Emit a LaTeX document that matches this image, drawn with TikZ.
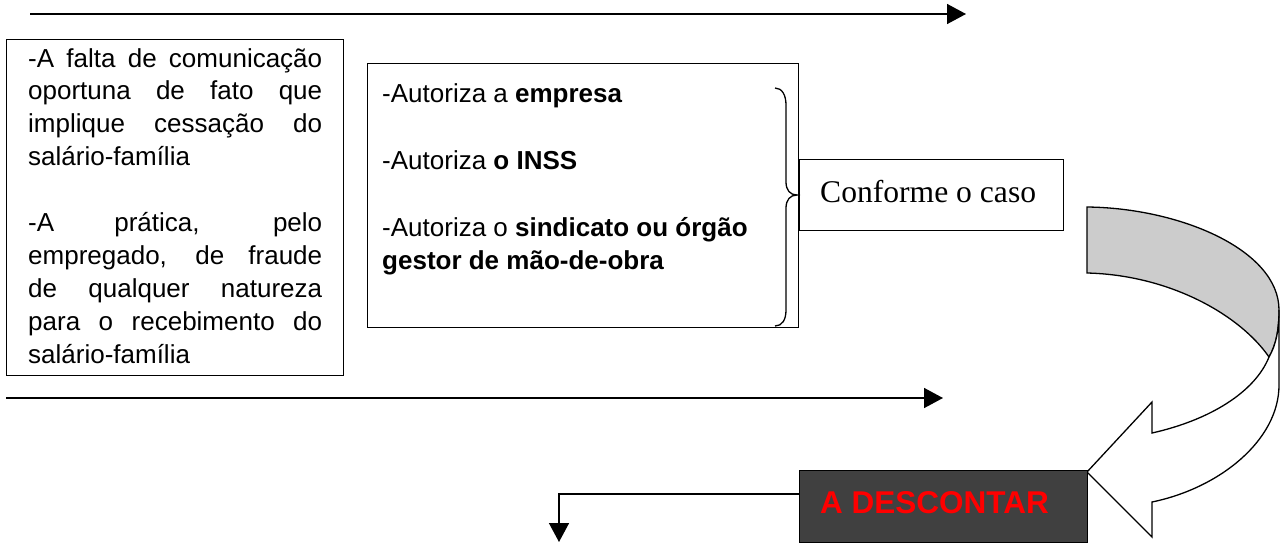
\documentclass[tikz,border=0pt]{standalone}
\usepackage{fontspec}
\setmainfont{Liberation Sans}
\newfontfamily\timesfont{Liberation Serif}
\usetikzlibrary{arrows.meta}
\definecolor{bandgray}{HTML}{CCCCCC}
\definecolor{darkbox}{HTML}{404040}
\begin{document}
\begin{tikzpicture}[x=1pt,y=-1pt,
  box/.style={draw=black, line width=1.3pt, inner sep=0pt, anchor=north west},
  flow/.style={line width=1.5pt, -{Triangle[length=19pt,width=20pt]}},
  txt/.style={inner sep=0pt, anchor=base west},
  ribbon/.style={draw=black, line width=1.3pt, line join=miter}]
\useasboundingbox (0,0) rectangle (1282,544);

% top arrow
\coordinate (ta) at (30,14);
\coordinate (tb) at (966,14);
\draw[flow] (ta) -- (tb);

% left box
\node[box, minimum width=337pt, minimum height=336pt] (left) at (6,39) {};
\node[txt] (lefttext) at (28,67) {\parbox[t]{294pt}{\fontsize{26}{32.9}\selectfont
\makebox[294pt][s]{-A falta de comunicação}\\
\makebox[294pt][s]{oportuna de fato que}\\
\makebox[294pt][s]{implique cessação do}\\
salário-família\\
\mbox{}\\
\makebox[294pt][s]{-A prática, pelo}\\
\makebox[294pt][s]{empregado, de fraude}\\
\makebox[294pt][s]{de qualquer natureza}\\
\makebox[294pt][s]{para o recebimento do}\\
salário-família}};

% middle box
\node[box, minimum width=431pt, minimum height=264pt] (mid) at (367,63) {};
\node[txt] (midtext) at (382,102) {\parbox[t]{390pt}{\fontsize{26}{33.5}\selectfont
-Autoriza a \textbf{empresa}\\
\mbox{}\\
-Autoriza \textbf{o INSS}\\
\mbox{}\\
-Autoriza o \textbf{sindicato ou órgão}\\
\textbf{gestor de mão-de-obra}}};

% brace
\draw[line width=1.3pt] (775,88) .. controls (782,88) and (786,95) .. (786,105)
  -- (786,182) .. controls (786,190) and (790,195) .. (797,195)
  .. controls (790,195) and (786,200) .. (786,208)
  -- (786,310) .. controls (786,320) and (782,326) .. (775,326);

% conforme box
\node[box, minimum width=264pt, minimum height=71pt] (conf) at (799,159) {};
\node[txt] (conftext) at (820,202) {\timesfont\fontsize{31.6}{36}\selectfont Conforme o caso};

% middle arrow
\coordinate (ma) at (6,398);
\coordinate (mb) at (943,398);
\draw[flow] (ma) -- (mb);

% curved arrow: back band (gray)
\draw[ribbon, fill=bandgray] (1087,207) .. controls (1180,208) and (1279,250) .. (1279,310)
  .. controls (1279,330) and (1276,345) .. (1269,357)
  .. controls (1240,315) and (1170,275) .. (1087,273) -- cycle;
% front band with head (white)
\draw[ribbon, fill=white] (1279,310) -- (1279,385)
  .. controls (1279,440) and (1220,488) .. (1152,502)
  -- (1152,537) -- (1087,472) -- (1152,402) -- (1152,433)
  .. controls (1210,420) and (1255,392) .. (1269,357)
  .. controls (1276,345) and (1279,330) .. (1279,310) -- cycle;

% A DESCONTAR box
\node[box, fill=darkbox, minimum width=288pt, minimum height=72pt] (desc) at (799,470) {};
\node[txt, text=red] (desctext) at (820,513) {\fontsize{31.5}{34}\selectfont\bfseries A DESCONTAR};

% connector from box downward
\coordinate (da) at (799,494);
\coordinate (db) at (559,542);
\draw[flow] (da) -| (db);
\end{tikzpicture}
\end{document}
